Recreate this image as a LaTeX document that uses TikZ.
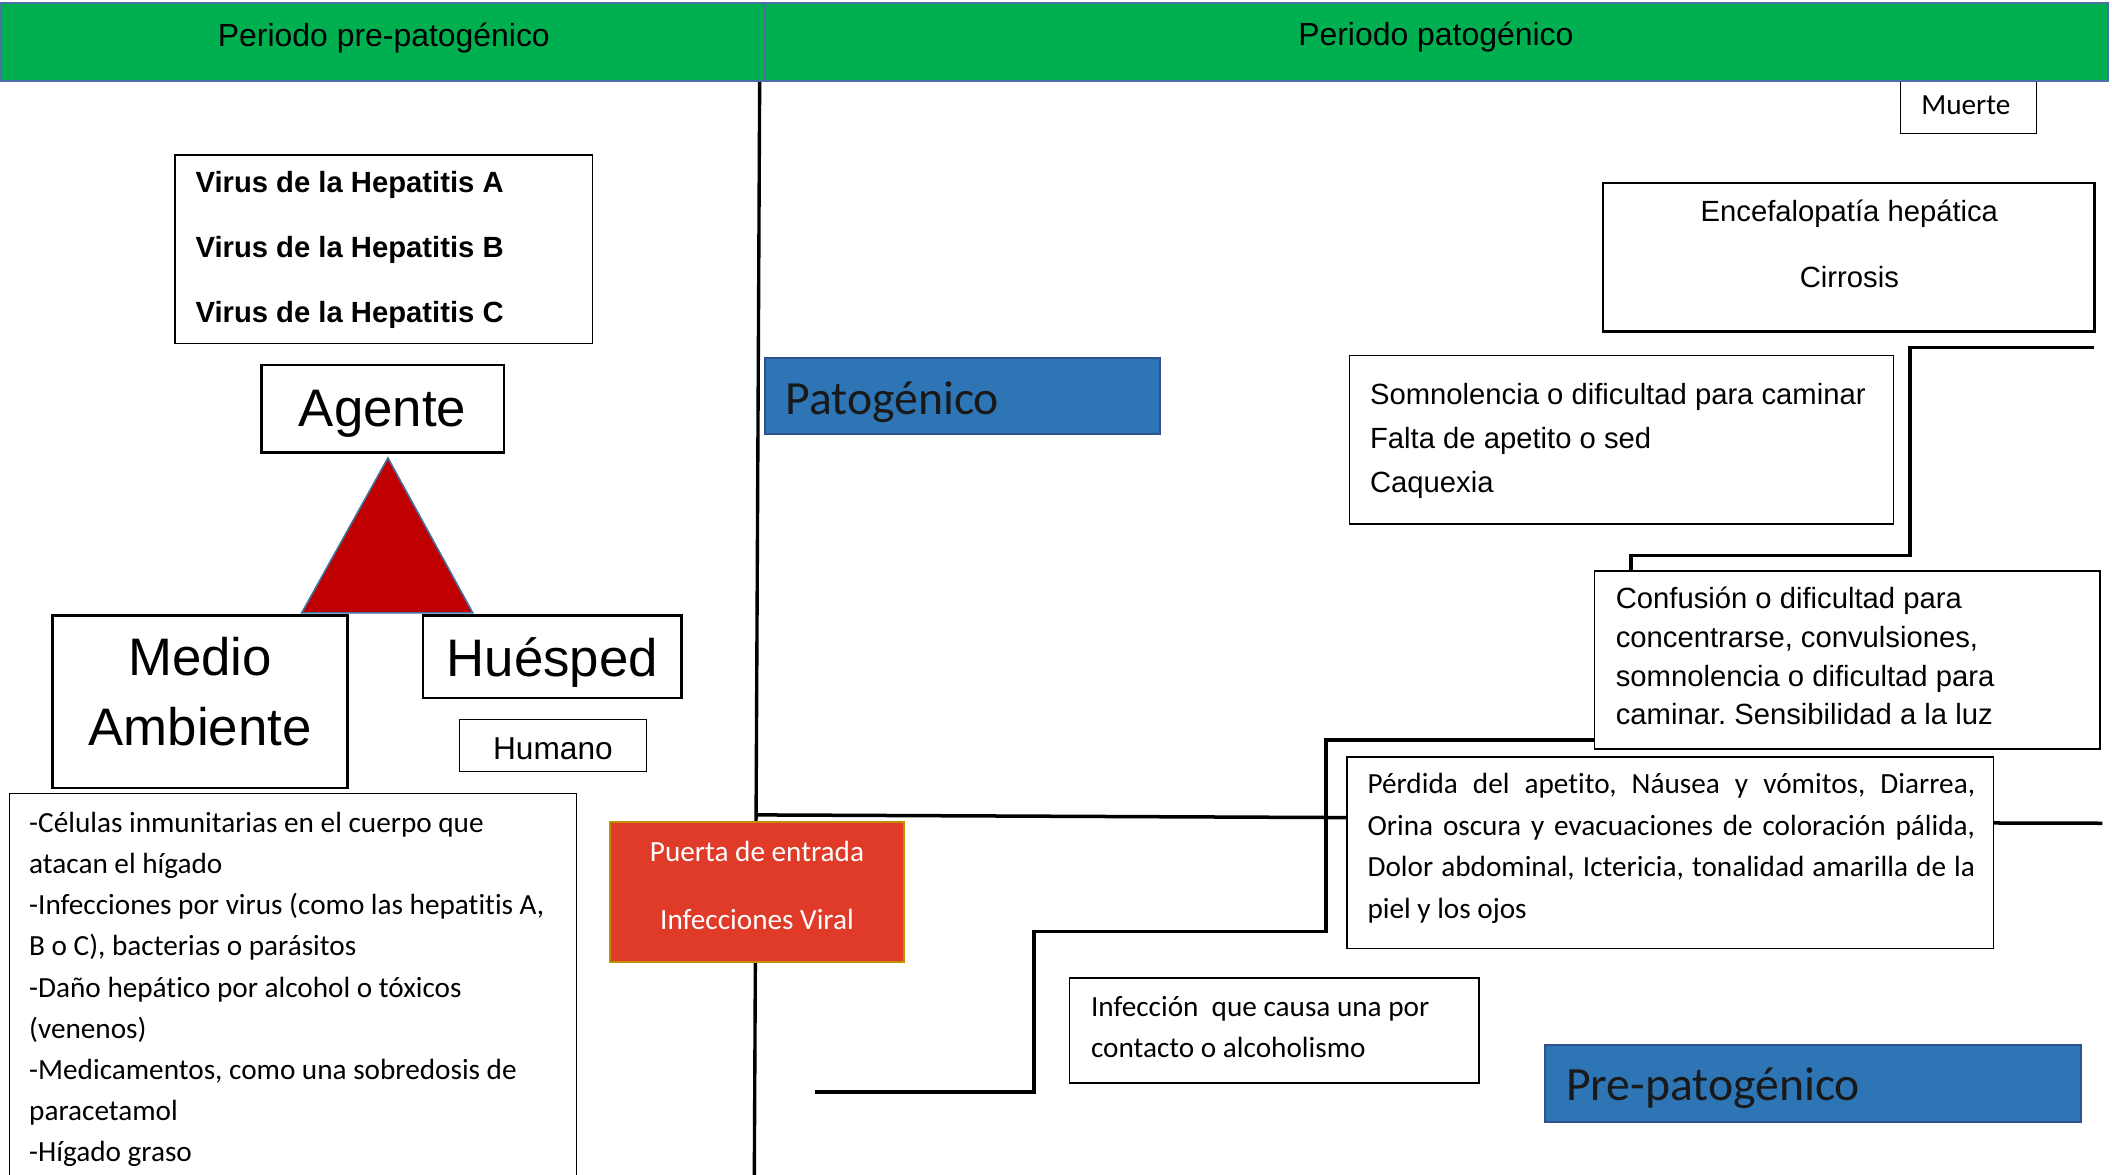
\documentclass[tikz,border=0pt]{standalone}
\usepackage{fontspec}
\setmainfont[Ligatures=NoCommon]{Liberation Sans}
\newfontfamily\calib[Ligatures=NoCommon]{Carlito}
\usetikzlibrary{calc}
\definecolor{hgreen}{HTML}{00B050}
\definecolor{hblue}{HTML}{4A6EA5}
\definecolor{pblue}{HTML}{2E75B6}
\definecolor{pborder}{HTML}{2F528F}
\definecolor{tred}{HTML}{C00000}
\definecolor{tborder}{HTML}{41719C}
\definecolor{pred}{HTML}{E03A28}
\definecolor{pgold}{HTML}{BF9000}
\newcommand\tl[1]{\begin{tabular}[t]{@{}l@{}}#1\end{tabular}}
\newcommand\tcc[1]{\begin{tabular}[t]{@{}c@{}}#1\end{tabular}}
\frenchspacing
\begin{document}
\begin{tikzpicture}[x=1pt,y=-1pt,
  box/.style={draw=black, line width=1pt, fill=white, inner sep=0pt, outer sep=0pt, anchor=north west},
  thickbox/.style={box, line width=1.8pt},
  bluebox/.style={box, fill=pblue, draw=pborder, line width=1.2pt},
  hdr/.style={box, fill=hgreen, draw=hblue, line width=1.3pt},
  txt/.style={inner sep=0pt, anchor=base west},
  ctxt/.style={inner sep=0pt, anchor=base},
  conn/.style={line width=2.6pt, line join=miter, line cap=rect},
  divl/.style={line width=2.5pt}
]
\useasboundingbox[fill=white] (0,0) rectangle (1568,872);

% connectors
\coordinate (dtop) at (564,60);
\coordinate (dbot) at (560,876);
\coordinate (d1) at (562,605);
\coordinate (s1) at (1553,258);
\coordinate (e2) at (606,810.6);
\coordinate (e3) at (1559.6,611.2);

% boxes
\node[box, minimum width=310pt, minimum height=140pt] (virus) at (130,115) {};
\node[thickbox, minimum width=180pt, minimum height=65pt] (agente) at (194,271) {};
\node[thickbox, minimum width=219pt, minimum height=128pt] (medio) at (39,457) {};
\node[thickbox, minimum width=192pt, minimum height=61pt] (huesped) at (314,457) {};
\node[box, minimum width=139pt, minimum height=39pt] (humano) at (341,534) {};
\node[box, minimum width=421pt, minimum height=292pt] (lista) at (7,589) {};

\draw[divl] (dtop) -- (dbot);
\draw[conn] (d1) -- (999,607);
\draw[conn] (s1) -- (1418,258) -- (1418,412.5) -- (1211,412.5) -- (1211,424);
\draw[conn] (1184,549.4) -- (984.6,549.4) -- (984.6,691.7) -- (767.7,691.7) -- (767.7,810.6) -- (e2);
\draw[conn] (1481,611) -- (e3);

\node[box, fill=pred, draw=pgold, line width=1.5pt, minimum width=218pt, minimum height=104pt] (puerta) at (453,610) {};
\node[bluebox, minimum width=293pt, minimum height=56pt] (patog) at (568,266) {};
\node[box, minimum width=101pt, minimum height=39pt] (muerte) at (1411,60) {};
\node[thickbox, minimum width=365pt, minimum height=110pt] (encef) at (1190,136) {};
\node[box, minimum width=404pt, minimum height=125pt] (somn) at (1002,264) {};
\node[box, minimum width=375pt, minimum height=132pt] (conf) at (1184,424) {};
\node[box, minimum width=480pt, minimum height=142pt] (perd) at (1000,562) {};
\node[box, minimum width=304pt, minimum height=78pt] (infec) at (794,726) {};
\node[bluebox, minimum width=398pt, minimum height=57pt] (prepat) at (1147,776) {};

% header
\node[hdr, minimum width=568pt, minimum height=58pt] (hdrL) at (0,2) {};
\node[hdr, minimum width=997pt, minimum height=58pt] (hdrR) at (568,2) {};

% triangle
\draw[fill=tred, draw=tborder, line width=1.2pt] (288,340) -- (351,455) -- (224,455) -- cycle;

% texts
\node[ctxt, font=\fontsize{23.7}{28}\selectfont] (thL) at (285,34.5) {Periodo pre-patogénico};
\node[ctxt, font=\fontsize{23.7}{28}\selectfont] (thR) at (1066,34) {Periodo patogénico};
\node[txt, font=\fontsize{21.7}{48.5}\selectfont\bfseries] (tvirus) at (145,142.8)
  {\tl{Virus de la Hepatitis A\\Virus de la Hepatitis B\\Virus de la Hepatitis C}};
\node[ctxt, font=\fontsize{39.2}{46}\selectfont] (tagente) at (284,316.8) {Agente};
\node[ctxt, font=\fontsize{39.2}{52.3}\selectfont] (tmedio) at (148.5,501.4) {\tcc{Medio\\Ambiente}};
\node[ctxt, font=\fontsize{39.2}{46}\selectfont] (thuesped) at (410,502) {Huésped};
\node[ctxt, font=\fontsize{23.5}{28}\selectfont] (thumano) at (410.5,564) {Humano};
\node[txt, font=\calib\fontsize{21.7}{30.5}\selectfont] (tlista) at (21.5,618.2)
  {\tl{-Células inmunitarias en el cuerpo que\\atacan el hígado\\-Infecciones por virus (como las hepatitis A,\\B o C), bacterias o parásitos\\-Daño hepático por alcohol o tóxicos\\(venenos)\\-Medicamentos, como una sobredosis de\\paracetamol\\-Hígado graso}};
\node[ctxt, text=white, font=\calib\fontsize{21.7}{50.2}\selectfont] (tpuerta) at (562,639.6)
  {\tcc{Puerta de entrada\\Infecciones Viral}};
\node[txt, text=black!90, font=\calib\fontsize{35.4}{40}\selectfont] (tpatog) at (583,307.5) {Patogénico};
\node[ctxt, font=\calib\fontsize{21.7}{26}\selectfont] (tmuerte) at (1459.5,84.8) {Muerte};
\node[ctxt, font=\fontsize{21.7}{49}\selectfont] (tencef) at (1373,164.4)
  {\tcc{Encefalopatía hepática\\Cirrosis}};
\node[txt, font=\fontsize{21.7}{32.9}\selectfont] (tsomn) at (1017,300.1)
  {\tl{Somnolencia o dificultad para caminar\\Falta de apetito o sed\\Caquexia}};
\node[txt, font=\fontsize{21.7}{28.8}\selectfont] (tconf) at (1199.4,451.7)
  {\tl{Confusión o dificultad para\\concentrarse, convulsiones,\\somnolencia o dificultad para\\caminar. Sensibilidad a la luz}};
\node[txt, font=\calib\fontsize{21.7}{30.8}\selectfont] (tperd) at (1015.1,589.2)
  {\tl{\makebox[451pt][s]{Pérdida del apetito, Náusea y vómitos, Diarrea,}\\
       \makebox[451pt][s]{Orina oscura y evacuaciones de coloración pálida,}\\
       \makebox[451pt][s]{Dolor abdominal, Ictericia, tonalidad amarilla de la}\\
       piel y los ojos}};
\node[txt, font=\calib\fontsize{21.7}{30.3}\selectfont] (tinfec) at (809.8,754.8)
  {\tl{Infección\ \ que causa una por\\contacto o alcoholismo}};
\node[txt, text=black!90, font=\calib\fontsize{35.4}{40}\selectfont] (tprepat) at (1162.6,817.2) {Pre-patogénico};
\end{tikzpicture}
\end{document}
